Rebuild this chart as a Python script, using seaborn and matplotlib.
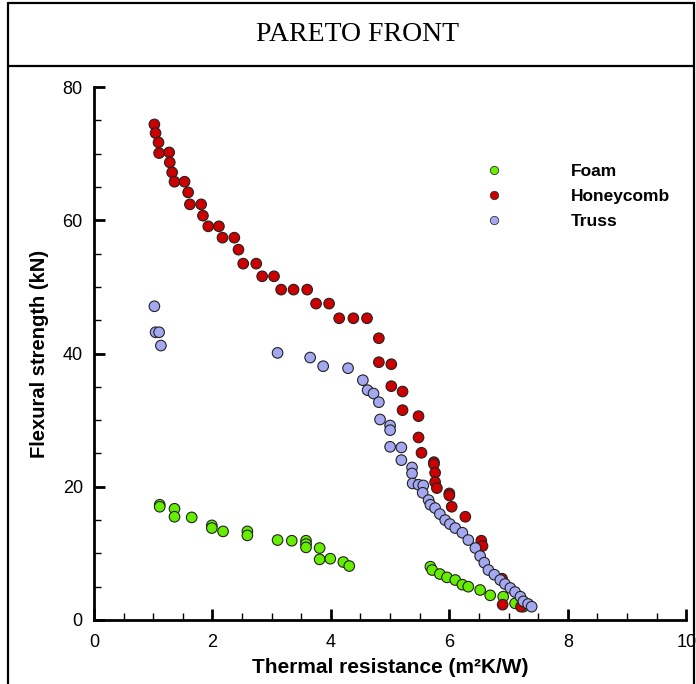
import numpy as np
import pandas as pd
import seaborn as sns
import matplotlib.pyplot as plt
from matplotlib.lines import Line2D
from matplotlib.ticker import MultipleLocator

# -----------------------------
# Data
# -----------------------------
foam_x = [1.11, 1.11, 1.36, 1.36, 1.65, 1.99, 1.99, 2.18, 2.59, 2.59, 3.10, 3.34,
          3.58, 3.58, 3.58, 3.81, 3.81, 3.99, 4.21, 4.31,
          5.68, 5.71, 5.84, 5.96, 6.10, 6.22, 6.32, 6.52, 6.69, 6.91, 7.11, 7.25]
foam_y = [17.3, 17.0, 16.7, 15.5, 15.4, 14.2, 13.8, 13.3, 13.3, 12.7, 12.0, 11.9,
          11.9, 11.4, 10.9, 10.8, 9.1, 9.2, 8.7, 8.1,
          8.0, 7.5, 6.9, 6.4, 6.0, 5.3, 5.0, 4.5, 3.7, 3.5, 2.5, 2.0]

honey_x = [1.02, 1.04, 1.09, 1.10, 1.27, 1.28, 1.32, 1.36, 1.53, 1.59, 1.62, 1.81,
           1.84, 1.93, 2.11, 2.17, 2.37, 2.44, 2.52, 2.74, 2.84, 3.04, 3.16, 3.37,
           3.60, 3.75, 3.97, 4.14, 4.38, 4.61, 4.81, 4.81, 5.02, 5.02, 5.21, 5.21,
           5.48, 5.48, 5.53, 5.74, 5.74, 5.76, 5.76, 5.79, 6.00, 6.00, 6.04, 6.27,
           6.54, 6.56, 6.89, 6.90, 7.21]
honey_y = [74.4, 73.1, 71.7, 70.1, 70.2, 68.7, 67.2, 65.8, 65.8, 64.2, 62.4, 62.4,
           60.7, 59.1, 59.1, 57.4, 57.4, 55.6, 53.5, 53.5, 51.6, 51.6, 49.6, 49.6,
           49.6, 47.5, 47.5, 45.3, 45.3, 45.3, 42.3, 38.7, 38.4, 35.1, 34.3, 31.5,
           30.6, 27.4, 25.1, 23.7, 23.4, 22.1, 20.7, 19.8, 19.0, 18.7, 17.0, 15.5,
           11.9, 11.1, 6.2, 2.3, 2.0]

truss_x = [1.02, 1.04, 1.10, 1.13, 3.10, 3.65, 3.87, 4.29, 4.54, 4.62, 4.72, 4.81,
           4.83, 5.00, 5.00, 5.00, 5.19, 5.19, 5.37, 5.37, 5.38, 5.48, 5.56, 5.55,
           5.65, 5.68, 5.76, 5.84, 5.93, 6.01, 6.10, 6.22, 6.32, 6.44, 6.52, 6.59,
           6.66, 6.76, 6.86, 6.94, 7.03, 7.11, 7.20, 7.25, 7.33, 7.39]
truss_y = [47.1, 43.2, 43.2, 41.2, 40.1, 39.4, 38.1, 37.8, 36.0, 34.5, 34.0, 32.7,
           30.1, 29.2, 28.5, 26.0, 25.9, 24.0, 22.9, 22.0, 20.5, 20.3, 20.2, 19.1,
           18.0, 17.3, 16.8, 15.9, 15.0, 14.4, 13.8, 13.1, 12.0, 10.8, 9.6, 8.6,
           7.5, 6.8, 6.0, 5.4, 4.8, 4.2, 3.5, 2.8, 2.4, 2.0]

designs = ["Foam", "Honeycomb", "Truss"]
colors = {"Foam": "#66ee00", "Honeycomb": "#cc0000", "Truss": "#a3a8f0"}

df = pd.concat([
    pd.DataFrame({"x": foam_x, "y": foam_y, "design": "Foam"}),
    pd.DataFrame({"x": honey_x, "y": honey_y, "design": "Honeycomb"}),
    pd.DataFrame({"x": truss_x, "y": truss_y, "design": "Truss"}),
], ignore_index=True)

sns.set_style("ticks")
plt.rcParams["font.family"] = ["Liberation Sans", "DejaVu Sans"]
plt.rcParams["text.color"] = "black"
plt.rcParams["axes.labelcolor"] = "black"
plt.rcParams["xtick.color"] = "black"
plt.rcParams["ytick.color"] = "black"
plt.rcParams["axes.edgecolor"] = "black"

fig = plt.figure(figsize=(6.96, 6.84), dpi=100)
ax = fig.add_axes([0.135, 0.0936, 0.851, 0.779])

sns.scatterplot(data=df, x="x", y="y", hue="design", hue_order=designs,
                palette=colors, s=58, edgecolor="#222222", linewidth=0.8,
                legend=False, ax=ax)

ax.set_xlim(0, 10)
ax.set_ylim(0, 80)
ax.xaxis.set_major_locator(MultipleLocator(2))
ax.xaxis.set_minor_locator(MultipleLocator(0.5))
ax.yaxis.set_major_locator(MultipleLocator(20))
ax.yaxis.set_minor_locator(MultipleLocator(5))
ax.tick_params(which="major", direction="in", length=8, width=2, labelsize=13, pad=8)
ax.tick_params(axis="x", which="major", pad=10)
ax.tick_params(which="minor", direction="in", length=5, width=1)
sns.despine(ax=ax)
for side in ["left", "bottom"]:
    ax.spines[side].set_linewidth(2)

ax.set_xlabel("Thermal resistance (m²K/W)", fontsize=15, fontweight="bold", labelpad=5)
ax.set_ylabel("Flexural strength (kN)", fontsize=14.5, fontweight="bold", labelpad=10)

# legend, no frame
handles = [Line2D([], [], marker="o", linestyle="", markersize=6,
                  markerfacecolor=colors[d], markeredgecolor="#333333",
                  markeredgewidth=0.6) for d in designs]
leg = ax.legend(handles, designs, frameon=False, loc="upper left",
                bbox_to_anchor=(0.62, 0.885), handletextpad=3.4,
                labelspacing=0.55, prop={"weight": "bold", "size": 12.5})

# table-like frame with title cell
fig.add_artist(Line2D([0.0115, 0.0115], [0, 0.9956], color="black", lw=1.6))
fig.add_artist(Line2D([0.997, 0.997], [0, 0.9956], color="black", lw=1.6))
fig.add_artist(Line2D([0.0115, 0.997], [0.9956, 0.9956], color="black", lw=1.6))
fig.add_artist(Line2D([0.0115, 0.997], [0.9035, 0.9035], color="black", lw=1.6))
fig.text(0.514, 0.949, "PARETO FRONT", ha="center", va="center",
         fontsize=20, family=["Liberation Serif", "DejaVu Serif"])

fig.savefig("out.png", dpi=100)
